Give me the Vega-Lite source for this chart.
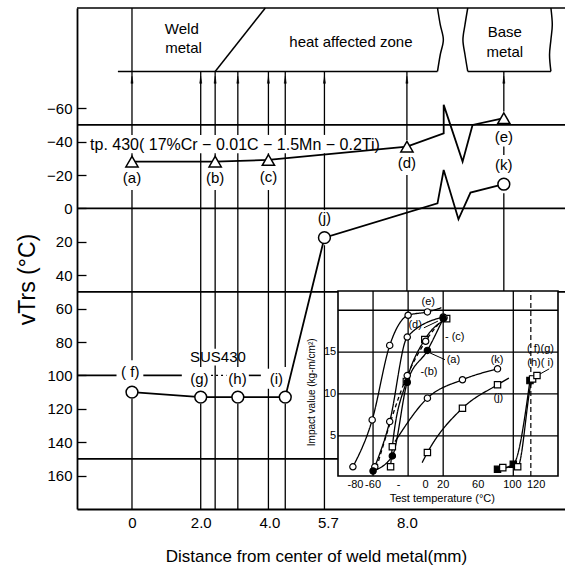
{
  "$schema": "https://vega.github.io/schema/vega-lite/v6.json",
  "width": 488,
  "height": 501,
  "autosize": {"type": "none"},
  "padding": {"left": 77, "top": 8, "right": 0, "bottom": 59},
  "background": "white",
  "config": {
    "view": {"stroke": null},
    "font": "Liberation Sans",
    "text": {"font": "Liberation Sans", "color": "black", "baseline": "middle"}
  },
  "datasets": {
    "vlines": [
      {"x": 0, "y": -120, "y2": -44}, {"x": 0, "y": -33, "y2": -31}, {"x": 0, "y": -11, "y2": 91}, {"x": 0, "y": 114, "y2": 180},
      {"x": 2.0, "y": -82, "y2": -44}, {"x": 2.0, "y": -33, "y2": 95}, {"x": 2.0, "y": 117, "y2": 180},
      {"x": 2.42, "y": -82, "y2": -44}, {"x": 2.42, "y": -33, "y2": -31}, {"x": 2.42, "y": -11, "y2": 84}, {"x": 2.42, "y": 94, "y2": 180},
      {"x": 3.08, "y": -82, "y2": -44}, {"x": 3.08, "y": -33, "y2": 95}, {"x": 3.08, "y": 117, "y2": 180},
      {"x": 3.97, "y": -82, "y2": -44}, {"x": 3.97, "y": -33, "y2": -32}, {"x": 3.97, "y": -11, "y2": 96}, {"x": 3.97, "y": 108, "y2": 180},
      {"x": 4.46, "y": -82, "y2": -44}, {"x": 4.46, "y": -33, "y2": 95}, {"x": 4.46, "y": 117, "y2": 180},
      {"x": 5.6, "y": -82, "y2": -44}, {"x": 5.6, "y": -33, "y2": 1}, {"x": 5.6, "y": 22, "y2": 180},
      {"x": 8.0, "y": -82, "y2": -41}, {"x": 8.0, "y": -20, "y2": 50},
      {"x": 10.82, "y": -82, "y2": -58}, {"x": 10.82, "y": -37, "y2": -32}, {"x": 10.82, "y": -9, "y2": 50}
    ],
    "hlines": [
      {"y": -120, "x": -1.6, "x2": 12.6},
      {"y": -82, "x": -0.41, "x2": 8.89},
      {"y": -82, "x": 9.77, "x2": 12.19},
      {"y": -50, "x": -1.6, "x2": 12.6},
      {"y": 0, "x": -1.6, "x2": 12.6},
      {"y": 50, "x": -1.6, "x2": 12.6},
      {"y": 100, "x": -1.6, "x2": -0.45},
      {"y": 100, "x": 0.33, "x2": 1.45},
      {"y": 100, "x": 3.4, "x2": 3.75},
      {"y": 150, "x": -1.6, "x2": 6.0}
    ],
    "hdots": [{"y": 100, "x": 2.3, "x2": 2.75}],
    "outline": [
      {"id": "haz", "o": 1, "x": 8.89, "y": -120}, {"id": "haz", "o": 2, "x": 8.97, "y": -110}, {"id": "haz", "o": 3, "x": 9.06, "y": -101}, {"id": "haz", "o": 4, "x": 8.97, "y": -92}, {"id": "haz", "o": 5, "x": 8.89, "y": -82},
      {"id": "bl", "o": 1, "x": 9.77, "y": -120}, {"id": "bl", "o": 2, "x": 9.69, "y": -110}, {"id": "bl", "o": 3, "x": 9.63, "y": -101}, {"id": "bl", "o": 4, "x": 9.69, "y": -92}, {"id": "bl", "o": 5, "x": 9.77, "y": -82},
      {"id": "br", "o": 1, "x": 12.19, "y": -120}, {"id": "br", "o": 2, "x": 12.23, "y": -110}, {"id": "br", "o": 3, "x": 12.19, "y": -101}, {"id": "br", "o": 4, "x": 12.15, "y": -92}, {"id": "br", "o": 5, "x": 12.19, "y": -82},
      {"id": "slant", "o": 1, "x": 3.88, "y": -120}, {"id": "slant", "o": 2, "x": 2.42, "y": -82}
    ],
    "arrows": [
      {"x": 0, "y": -77}, {"x": 2.0, "y": -77}, {"x": 2.42, "y": -77}, {"x": 3.08, "y": -77}, {"x": 3.97, "y": -77},
      {"x": 4.46, "y": -77}, {"x": 5.6, "y": -77}, {"x": 8.0, "y": -77}, {"x": 10.82, "y": -77}
    ],
    "tp430": [
      {"o": 1, "x": 0, "y": -28, "pt": 1},
      {"o": 2, "x": 2.42, "y": -28, "pt": 1},
      {"o": 3, "x": 3.97, "y": -29, "pt": 1},
      {"o": 4, "x": 8.0, "y": -37, "pt": 1},
      {"o": 5, "x": 9.07, "y": -45, "pt": 0},
      {"o": 6, "x": 9.07, "y": -62, "pt": 0},
      {"o": 7, "x": 9.62, "y": -28, "pt": 0},
      {"o": 8, "x": 9.91, "y": -50, "pt": 0},
      {"o": 9, "x": 10.82, "y": -54, "pt": 1}
    ],
    "sus430": [
      {"o": 1, "x": 0, "y": 110, "pt": 1},
      {"o": 2, "x": 2.0, "y": 113, "pt": 1},
      {"o": 3, "x": 3.08, "y": 113, "pt": 1},
      {"o": 4, "x": 4.46, "y": 113, "pt": 1},
      {"o": 5, "x": 5.6, "y": 17.5, "pt": 1},
      {"o": 6, "x": 8.89, "y": -3, "pt": 0},
      {"o": 7, "x": 9.07, "y": -23, "pt": 0},
      {"o": 8, "x": 9.5, "y": 6.5, "pt": 0},
      {"o": 9, "x": 9.85, "y": -9.5, "pt": 0},
      {"o": 10, "x": 10.82, "y": -14.5, "pt": 1}
    ],
    "mainLabels": [
      {"x": 0, "y": -18.5, "t": "(a)"},
      {"x": 2.42, "y": -18.5, "t": "(b)"},
      {"x": 3.97, "y": -19, "t": "(c)"},
      {"x": 8.0, "y": -27, "t": "(d)"},
      {"x": 10.82, "y": -43, "t": "(e)"},
      {"x": 10.82, "y": -26, "t": "(k)"},
      {"x": 5.6, "y": 6, "t": "(j)"},
      {"x": -0.05, "y": 98, "t": "( f)"},
      {"x": 1.96, "y": 102, "t": "(g)"},
      {"x": 3.07, "y": 102, "t": "(h)"},
      {"x": 4.2, "y": 102, "t": "(i)"},
      {"x": 2.5, "y": 89, "t": "SUS430"},
      {"x": 1.45, "y": -107.4, "t": "Weld"},
      {"x": 1.5, "y": -96, "t": "metal"},
      {"x": 6.37, "y": -99.6, "t": "heat affected zone"},
      {"x": 10.85, "y": -105.6, "t": "Base"},
      {"x": 10.85, "y": -93.7, "t": "metal"}
    ],
    "tpText": [{"x": -1.22, "y": -37.7, "t": "tp. 430( 17%Cr − 0.01C − 1.5Mn − 0.2Ti)"}],
    "inFrame": [{"T": -100, "T2": 151, "V": 0.2, "V2": 22.3}],
    "inGridH": [
      {"V": 5, "T": -100, "T2": 151}, {"V": 10, "T": -100, "T2": 151},
      {"V": 15, "T": -100, "T2": 151}, {"V": 20, "T": -100, "T2": 151}
    ],
    "inGridV": [
      {"T": -60, "V": 0.2, "V2": 22.3}, {"T": -20, "V": 0.2, "V2": 22.3},
      {"T": 20, "V": 0.2, "V2": 22.3}, {"T": 100, "V": 0.2, "V2": 22.3}
    ],
    "inGridVd": [{"T": 120, "V": 0.2, "V2": 22.3}],
    "leaders": [
      {"T": -2, "V": 17.9, "T2": 14, "V2": 18.7},
      {"T": 5, "V": 14.9, "T2": 22, "V2": 14.1},
      {"T": 129, "V": 12.3, "T2": 141, "V2": 13.0}
    ],
    "curves": [
      {"s": "e", "T": -83, "V": 1.3, "pt": 1}, {"s": "e", "T": -61, "V": 6.9, "pt": 1}, {"s": "e", "T": -41, "V": 15.8, "pt": 1},
      {"s": "e", "T": -20, "V": 19.4, "pt": 1}, {"s": "e", "T": 2, "V": 19.8, "pt": 1}, {"s": "e", "T": 18, "V": 20.3, "pt": 0},
      {"s": "d", "T": -58, "V": 1.3, "pt": 1}, {"s": "d", "T": -41, "V": 6.7, "pt": 1}, {"s": "d", "T": -21, "V": 16.8, "pt": 1}, {"s": "d", "T": 20, "V": 19.2, "pt": 1},
      {"s": "c", "T": -40, "V": 1.3, "pt": 1}, {"s": "c", "T": -38, "V": 3.7, "pt": 1}, {"s": "c", "T": -22, "V": 11.5, "pt": 1},
      {"s": "c", "T": -1, "V": 16.5, "pt": 1}, {"s": "c", "T": 24, "V": 19.0, "pt": 1},
      {"s": "b", "T": -56, "V": 1.2, "pt": 0}, {"s": "b", "T": -21, "V": 12.2, "pt": 1}, {"s": "b", "T": 0, "V": 16.3, "pt": 1}, {"s": "b", "T": 21, "V": 19.1, "pt": 1},
      {"s": "a", "T": -60, "V": 0.8, "pt": 1}, {"s": "a", "T": -38, "V": 2.6, "pt": 1}, {"s": "a", "T": -21, "V": 11.4, "pt": 1},
      {"s": "a", "T": 2, "V": 15.2, "pt": 1}, {"s": "a", "T": 20, "V": 19.0, "pt": 1},
      {"s": "k", "T": -35, "V": 4.3, "pt": 0}, {"s": "k", "T": 2, "V": 9.5, "pt": 1}, {"s": "k", "T": 42, "V": 11.7, "pt": 1}, {"s": "k", "T": 82, "V": 13.0, "pt": 1},
      {"s": "j", "T": -4, "V": 1.8, "pt": 0}, {"s": "j", "T": 2, "V": 3.0, "pt": 1}, {"s": "j", "T": 42, "V": 8.3, "pt": 1},
      {"s": "j", "T": 82, "V": 11.1, "pt": 1}, {"s": "j", "T": 95, "V": 11.9, "pt": 0},
      {"s": "fg", "T": 82, "V": 1.0, "pt": 1}, {"s": "fg", "T": 100, "V": 1.6, "pt": 1}, {"s": "fg", "T": 119, "V": 11.6, "pt": 1},
      {"s": "hi", "T": 88, "V": 1.2, "pt": 1}, {"s": "hi", "T": 105, "V": 1.3, "pt": 1}, {"s": "hi", "T": 122, "V": 11.8, "pt": 1}, {"s": "hi", "T": 127, "V": 12.2, "pt": 1}
    ],
    "inLabelsC": [
      {"T": 3, "V": 21, "t": "(e)"},
      {"T": -12, "V": 18.2, "t": "(d)"},
      {"T": 81.5, "V": 14.0, "t": "(k)"},
      {"T": 83, "V": 9.5, "t": "(j)"},
      {"T": 131, "V": 15.4, "t": "( f)(g)"},
      {"T": 131, "V": 13.7, "t": "(h)( i)"},
      {"T": -80, "V": -0.85, "t": "-80"},
      {"T": -60, "V": -0.85, "t": "-60"},
      {"T": -31, "V": -0.85, "t": "-"},
      {"T": 0, "V": -0.85, "t": "0"},
      {"T": 20, "V": -0.85, "t": "20"},
      {"T": 60, "V": -0.85, "t": "60"},
      {"T": 99, "V": -0.85, "t": "100"},
      {"T": 126, "V": -0.85, "t": "120"},
      {"T": 19, "V": -2.5, "t": "Test temperature (°C)"}
    ],
    "inLabelsL": [
      {"T": 22, "V": 16.8, "t": "- (c)"},
      {"T": -6, "V": 12.6, "t": "-(b)"},
      {"T": 24, "V": 14.0, "t": "(a)"}
    ],
    "inYTicks": [
      {"T": -102, "V": 15, "t": "15"},
      {"T": -102, "V": 10, "t": "10"},
      {"T": -102, "V": 5, "t": "5"}
    ],
    "inYTitle": [{"T": -130, "V": 10.2, "t": "Impact value (kg-m/cm²)"}]
  },
  "layer": [
    {
      "encoding": {
        "x": {
          "field": "x", "type": "quantitative",
          "scale": {"domain": [-1.6, 12.6], "nice": false, "zero": false},
          "axis": {
            "values": [0, 2, 4, 5.7, 8],
            "labelExpr": "datum.value == 0 ? '0' : format(datum.value, '.1f')",
            "ticks": false, "grid": false, "domain": true, "domainColor": "black", "domainWidth": 1.8,
            "labelFontSize": 15, "labelColor": "black", "labelPadding": 6, "labelFont": "Liberation Sans",
            "title": "Distance from center of weld metal(mm)",
            "titleFont": "Liberation Sans", "titleFontSize": 17, "titleFontWeight": "normal", "titleColor": "black",
            "titleX": 239, "titleY": 47, "titleBaseline": "middle", "titleAlign": "center"
          }
        },
        "y": {
          "field": "y", "type": "quantitative",
          "scale": {"domain": [-120, 180], "nice": false, "zero": false, "reverse": true},
          "axis": {
            "values": [-60, -40, -20, 0, 20, 40, 60, 80, 100, 120, 140, 160],
            "grid": false, "domain": true, "domainColor": "black", "domainWidth": 1.8,
            "ticks": true, "tickSize": -9, "tickColor": "black", "tickWidth": 1.3,
            "labelPadding": 14, "labelFontSize": 15, "labelColor": "black", "labelFont": "Liberation Sans",
            "title": "vTrs (°C)", "titleFont": "Liberation Sans", "titleFontSize": 23, "titleFontWeight": "normal", "titleColor": "black",
            "titleAngle": -90, "titleX": -50, "titleY": 271, "titleBaseline": "middle", "titleAlign": "center"
          }
        }
      },
      "layer": [
        {"data": {"name": "vlines"}, "mark": {"type": "rule", "color": "black", "strokeWidth": 1.3}, "encoding": {"y2": {"field": "y2"}}},
        {"data": {"name": "hlines"}, "mark": {"type": "rule", "color": "black", "strokeWidth": 1.6}, "encoding": {"x2": {"field": "x2"}}},
        {"data": {"name": "hdots"}, "mark": {"type": "rule", "color": "black", "strokeWidth": 1.3, "strokeDash": [2, 3]}, "encoding": {"x2": {"field": "x2"}}},
        {"data": {"name": "outline"}, "mark": {"type": "line", "color": "black", "strokeWidth": 1.5, "interpolate": "cardinal"}, "encoding": {"detail": {"field": "id"}, "order": {"field": "o"}}},
        {"data": {"name": "tp430"}, "mark": {"type": "line", "color": "black", "strokeWidth": 1.8}, "encoding": {"order": {"field": "o"}}},
        {"data": {"name": "sus430"}, "mark": {"type": "line", "color": "black", "strokeWidth": 1.8}, "encoding": {"order": {"field": "o"}}},
        {"data": {"name": "tp430"}, "transform": [{"filter": "datum.pt == 1"}], "mark": {"type": "point", "shape": "triangle-up", "fill": "white", "stroke": "black", "strokeWidth": 1.5, "size": 150, "opacity": 1}},
        {"data": {"name": "sus430"}, "transform": [{"filter": "datum.pt == 1"}], "mark": {"type": "point", "shape": "circle", "fill": "white", "stroke": "black", "strokeWidth": 1.5, "size": 140, "opacity": 1}},
        {"data": {"name": "arrows"}, "mark": {"type": "point", "shape": "M0,-1L0.3,1L-0.3,1Z", "fill": "black", "stroke": "black", "strokeWidth": 0.5, "size": 50, "opacity": 1}},
        {"data": {"name": "mainLabels"}, "mark": {"type": "text", "fontSize": 15}, "encoding": {"text": {"field": "t"}}},
        {"data": {"name": "tpText"}, "mark": {"type": "text", "fontSize": 16, "align": "left"}, "encoding": {"text": {"field": "t"}}}
      ]
    },
    {
      "encoding": {
        "x": {"field": "T", "type": "quantitative", "scale": {"domain": [-100, 151], "range": [261, 481], "nice": false, "zero": false}, "axis": null},
        "y": {"field": "V", "type": "quantitative", "scale": {"domain": [0.2, 22.3], "range": [468, 283], "nice": false, "zero": false}, "axis": null}
      },
      "layer": [
        {"data": {"name": "inFrame"}, "mark": {"type": "rect", "fill": "white", "stroke": "black", "strokeWidth": 1.6}, "encoding": {"x2": {"field": "T2"}, "y2": {"field": "V2"}}},
        {"data": {"name": "inGridH"}, "mark": {"type": "rule", "color": "black", "strokeWidth": 1.3}, "encoding": {"x2": {"field": "T2"}}},
        {"data": {"name": "inGridV"}, "mark": {"type": "rule", "color": "black", "strokeWidth": 1.3}, "encoding": {"y2": {"field": "V2"}}},
        {"data": {"name": "inGridVd"}, "mark": {"type": "rule", "color": "black", "strokeWidth": 1.2, "strokeDash": [5, 3]}, "encoding": {"y2": {"field": "V2"}}},
        {"data": {"name": "leaders"}, "mark": {"type": "rule", "color": "black", "strokeWidth": 1}, "encoding": {"x2": {"field": "T2"}, "y2": {"field": "V2"}}},
        {
          "data": {"name": "curves"},
          "mark": {"type": "line", "color": "black", "strokeWidth": 1.3, "interpolate": "monotone"},
          "encoding": {
            "detail": {"field": "s"},
            "strokeDash": {"field": "s", "type": "nominal", "legend": null,
              "scale": {"domain": ["e", "d", "c", "b", "a", "k", "j", "fg", "hi"],
                "range": [[1, 0], [1, 0], [1, 0], [4, 3], [1, 0], [1, 0], [1, 0], [1, 0], [1, 0]]}}
          }
        },
        {
          "data": {"name": "curves"},
          "transform": [{"filter": "datum.pt == 1"}],
          "mark": {"type": "point", "stroke": "black", "strokeWidth": 1.2, "size": 40, "opacity": 1},
          "encoding": {
            "shape": {"field": "s", "type": "nominal", "legend": null,
              "scale": {"domain": ["e", "d", "c", "b", "a", "k", "j", "fg", "hi"],
                "range": ["circle", "circle", "square", "circle", "circle", "circle", "square", "square", "square"]}},
            "fill": {"field": "s", "type": "nominal", "legend": null,
              "scale": {"domain": ["e", "d", "c", "b", "a", "k", "j", "fg", "hi"],
                "range": ["white", "white", "white", "white", "black", "white", "white", "black", "white"]}}
          }
        },
        {"data": {"name": "inLabelsC"}, "mark": {"type": "text", "fontSize": 11}, "encoding": {"text": {"field": "t"}}},
        {"data": {"name": "inLabelsL"}, "mark": {"type": "text", "fontSize": 11, "align": "left"}, "encoding": {"text": {"field": "t"}}},
        {"data": {"name": "inYTicks"}, "mark": {"type": "text", "fontSize": 11, "align": "right"}, "encoding": {"text": {"field": "t"}}},
        {"data": {"name": "inYTitle"}, "mark": {"type": "text", "fontSize": 10, "angle": 270}, "encoding": {"text": {"field": "t"}}}
      ]
    }
  ],
  "resolve": {"scale": {"x": "independent", "y": "independent"}}
}
